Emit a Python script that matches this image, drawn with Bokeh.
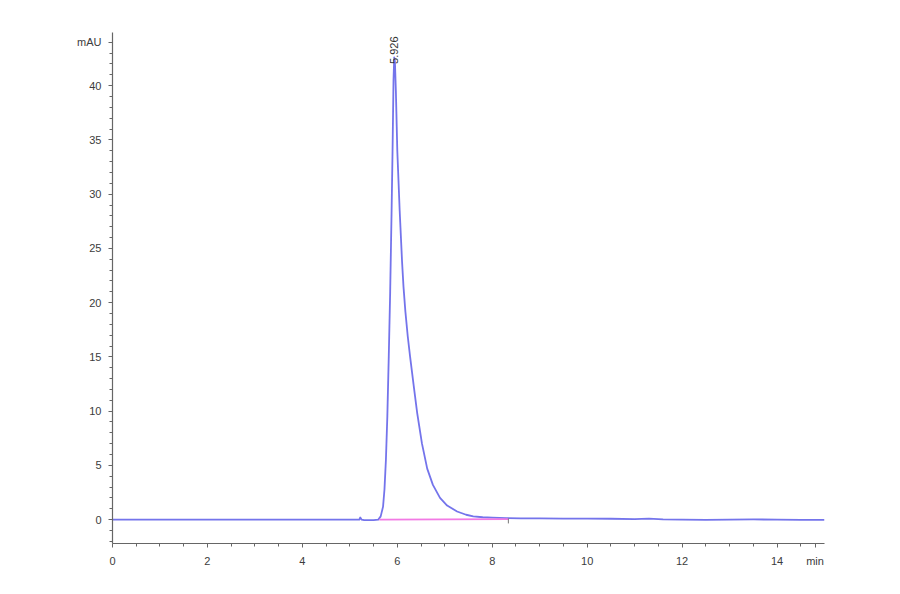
import math
from bokeh.plotting import figure
from bokeh.models import Range1d, FixedTicker, Label
from bokeh.embed import file_html
from bokeh.resources import INLINE

# ---- data ----
time_min = [0, 1, 2, 3, 4, 5, 5.2, 5.22, 5.25, 5.3, 5.5, 5.6, 5.65, 5.7, 5.73, 5.76,
            5.79, 5.82, 5.85, 5.88, 5.90, 5.92, 5.935, 5.95, 5.97, 6.0, 6.05, 6.1,
            6.13, 6.17, 6.22, 6.27, 6.35, 6.42, 6.52, 6.63, 6.75, 6.9, 7.05, 7.26,
            7.45, 7.6, 7.8, 8.0, 8.3, 8.6, 9, 9.5, 10, 10.5, 11, 11.3, 11.6, 12, 12.5,
            13, 13.5, 14, 14.5, 15]
signal_mau = [0.0, 0.0, 0.0, 0.0, 0.0, 0.0, 0.0, 0.2, 0.0, -0.05, -0.05, 0.0, 0.3, 1.2,
              2.8, 5.5, 9.5, 15.0, 21.0, 28.5, 34.0, 40.5, 42.6, 42.2, 39.5, 34.0,
              28.5, 23.8, 21.5, 19.2, 16.9, 15.0, 12.2, 9.8, 7.0, 4.7, 3.2, 2.0, 1.3,
              0.75, 0.45, 0.3, 0.22, 0.18, 0.14, 0.12, 0.12, 0.1, 0.1, 0.08, 0.05,
              0.1, 0.03, 0.0, -0.02, 0.0, 0.02, 0.0, -0.02, -0.03]

baseline_t = [5.62, 8.34]
baseline_v = [0.0, 0.05]

integ_end_t = [8.34]
integ_end_top = [0.1]
integ_end_bot = [-0.35]

peak_rt = 5.926
peak_label = "5.926"
peak_label_y = 42.0

x_start, x_end = 0, 15
y_start, y_end = -2.2, 44.9
x_major = [0, 2, 4, 6, 8, 10, 12, 14]
x_minor = [0.5, 1, 1.5, 2.5, 3, 3.5, 4.5, 5, 5.5, 6.5, 7, 7.5, 8.5, 9, 9.5,
           10.5, 11, 11.5, 12.5, 13, 13.5, 14.5]
y_major = [0, 5, 10, 15, 20, 25, 30, 35, 40]
y_minor = [-2, -1, 1, 2, 3, 4, 6, 7, 8, 9, 11, 12, 13, 14, 16, 17, 18, 19, 21, 22,
           23, 24, 26, 27, 28, 29, 31, 32, 33, 34, 36, 37, 38, 39, 41, 42, 43]
y_unit = "mAU"
x_unit = "min"
y_unit_pos = 44
x_unit_pos = 14.8

AXIS = "#666666"
TXT = "#3c3c3c"
FONT = "Liberation Sans"

p = figure(width=880, height=574, output_backend="svg", toolbar_location=None,
           x_range=Range1d(x_start, x_end), y_range=Range1d(y_start, y_end),
           min_border_left=112, min_border_right=56, min_border_top=32,
           min_border_bottom=31)
p.outline_line_color = None
p.xgrid.visible = False
p.ygrid.visible = False
p.background_fill_color = "white"

p.line(time_min, signal_mau, line_color="#5c5ce8", line_width=1.8, line_alpha=0.85,
       line_join="round")
p.line(baseline_t, baseline_v, line_color="#f27ae4", line_width=1.6)
p.segment(x0=integ_end_t, y0=integ_end_top, x1=integ_end_t, y1=integ_end_bot,
          line_color="#777777", line_width=1)

p.xaxis.ticker = FixedTicker(ticks=x_major + [x_unit_pos], minor_ticks=x_minor)
p.yaxis.ticker = FixedTicker(ticks=y_major + [y_unit_pos], minor_ticks=y_minor)
p.xaxis.major_label_overrides = {x_unit_pos: x_unit}
p.yaxis.major_label_overrides = {y_unit_pos: y_unit}
for ax in (p.xaxis[0], p.yaxis[0]):
    ax.axis_line_color = AXIS
    ax.axis_line_width = 1.2
    ax.major_tick_line_color = AXIS
    ax.minor_tick_line_color = AXIS
    ax.major_tick_out = 4
    ax.major_tick_in = 0
    ax.minor_tick_out = 3
    ax.minor_tick_in = 0
    ax.major_label_text_color = TXT
    ax.major_label_text_font = FONT
    ax.major_label_text_font_size = "11px"
p.xaxis.major_label_standoff = 7
p.yaxis.major_label_standoff = 7

p.add_layout(Label(x=peak_rt, y=peak_label_y, text=peak_label, angle=math.pi / 2,
                   text_align="left", text_baseline="middle",
                   text_font=FONT, text_font_size="11px", text_color="#333333"))

open("out.html", "w").write(file_html(p, INLINE))
